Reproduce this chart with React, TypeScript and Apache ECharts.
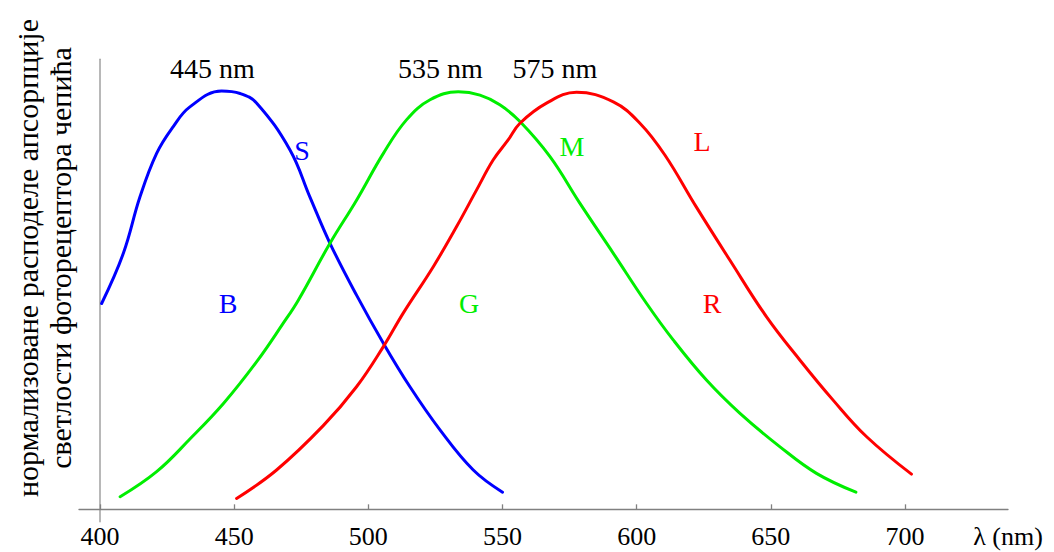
import React, { useEffect, useRef } from "react";
import * as echarts from "echarts";

// S (blue) cone curve
const blueLambda = [400.6, 408.7, 414.9, 421.1, 427.3, 433.5, 445.3, 452.2, 458.4, 470.8, 478.2, 485.7, 495.6, 505.6, 515.5, 526.7, 539.1, 550.0];
const blueValue = [0.492, 0.612, 0.747, 0.851, 0.915, 0.962, 1.0, 0.994, 0.971, 0.859, 0.747, 0.636, 0.512, 0.397, 0.293, 0.19, 0.094, 0.041];

// M (green) cone curve
const greenLambda = [407.5, 421.1, 433.5, 446.0, 458.4, 468.3, 473.9, 485.7, 495.6, 505.6, 514.2, 523.0, 533.5, 541.6, 549.0, 556.5, 567.7, 578.8, 591.3, 603.7, 613.6, 626.0, 638.4, 653.3, 667.0, 681.7];
const greenValue = [0.03, 0.09, 0.168, 0.253, 0.353, 0.445, 0.5, 0.636, 0.739, 0.851, 0.931, 0.979, 0.998, 0.99, 0.967, 0.927, 0.843, 0.732, 0.612, 0.492, 0.405, 0.309, 0.23, 0.15, 0.086, 0.041];

// L (red) cone curve
const redLambda = [450.9, 465.8, 483.2, 495.6, 505.6, 513.0, 524.2, 532.9, 540.3, 546.5, 552.1, 556.5, 566.4, 577.6, 591.3, 601.2, 610.5, 622.2, 634.7, 648.4, 660.8, 673.2, 685.6, 702.4];
const redValue = [0.026, 0.094, 0.2, 0.293, 0.389, 0.469, 0.58, 0.676, 0.763, 0.835, 0.883, 0.923, 0.971, 0.997, 0.974, 0.923, 0.847, 0.723, 0.596, 0.46, 0.357, 0.261, 0.174, 0.084];

const xTicks = [400, 450, 500, 550, 600, 650, 700];

const peakLabels = ["445 nm", "535 nm", "575 nm"];
const yTitleLines = ["нормализоване расподеле апсорпције", "светлости фоторецептора чепића"];

const FONT = "'Liberation Serif', 'Times New Roman', serif";

function pairs(xs: number[], ys: number[]) {
  return xs.map((x, i) => [x, ys[i]]);
}

export default function App() {
  const ref = useRef<HTMLDivElement>(null);
  useEffect(() => {
    if (!ref.current) return;
    const chart = echarts.init(ref.current, undefined, { renderer: "svg" });
    const lineSeries = (name: string, data: number[][], color: string) => ({
      type: "line",
      name,
      data,
      smooth: 0.4,
      showSymbol: false,
      symbol: "none",
      lineStyle: { color, width: 3, cap: "round" },
      z: 3,
    });
    const txt = (text: string, x: number, y: number, color: string, size = 28) => ({
      type: "text",
      x,
      y,
      style: {
        text,
        fill: color,
        font: `${size}px ${FONT}`,
        align: "center",
        verticalAlign: "middle",
      },
    });
    chart.setOption({
      animation: false,
      backgroundColor: "#ffffff",
      grid: {
        left: 79,
        top: 59.3,
        width: 929,
        height: 462.4,
        containLabel: false,
        outerBoundsMode: "none",
      },
      xAxis: {
        type: "value",
        min: 392.17,
        max: 738.38,
        axisLine: { show: true, onZero: true, lineStyle: { color: "#808080", width: 1.3 } },
        axisTick: { show: true, inside: true, length: 5, customValues: xTicks, lineStyle: { color: "#808080", width: 1.3 } },
        axisLabel: {
          show: true,
          customValues: xTicks,
          color: "#000",
          fontSize: 26,
          fontFamily: FONT,
          margin: 2,
        },
        splitLine: { show: false },
      },
      yAxis: {
        type: "value",
        min: -0.0296,
        max: 1.0758,
        offset: -21,
        axisLine: { show: true, onZero: false, lineStyle: { color: "#a0a0a0", width: 1.5 } },
        axisTick: { show: false },
        axisLabel: { show: false },
        splitLine: { show: false },
      },
      series: [
        lineSeries("S", pairs(blueLambda, blueValue), "#0000ff"),
        lineSeries("M", pairs(greenLambda, greenValue), "#00ee00"),
        lineSeries("L", pairs(redLambda, redValue), "#ff0000"),
      ],
      graphic: [
        txt(peakLabels[0], 212.5, 68, "#000"),
        txt(peakLabels[1], 440.5, 68, "#000"),
        txt(peakLabels[2], 555, 68, "#000"),
        txt("S", 302, 150, "#0000ff"),
        txt("B", 228, 303, "#0000ff"),
        txt("M", 572, 146, "#00ee00"),
        txt("G", 469, 303, "#00ee00"),
        txt("L", 702, 141, "#ff0000"),
        txt("R", 712, 303, "#ff0000"),
        txt("λ (nm)", 1008, 536, "#000", 26),
        {
          type: "text",
          x: 44,
          y: 258,
          rotation: Math.PI / 2,
          style: {
            text: yTitleLines.join("\n"),
            fill: "#000",
            font: `30px ${FONT}`,
            align: "center",
            verticalAlign: "middle",
            lineHeight: 33,
          },
        },
      ],
    });
    return () => chart.dispose();
  }, []);
  return (
    <div
      ref={ref}
      style={{ position: "absolute", left: 0, top: 0, width: 1054, height: 552 }}
    />
  );
}
